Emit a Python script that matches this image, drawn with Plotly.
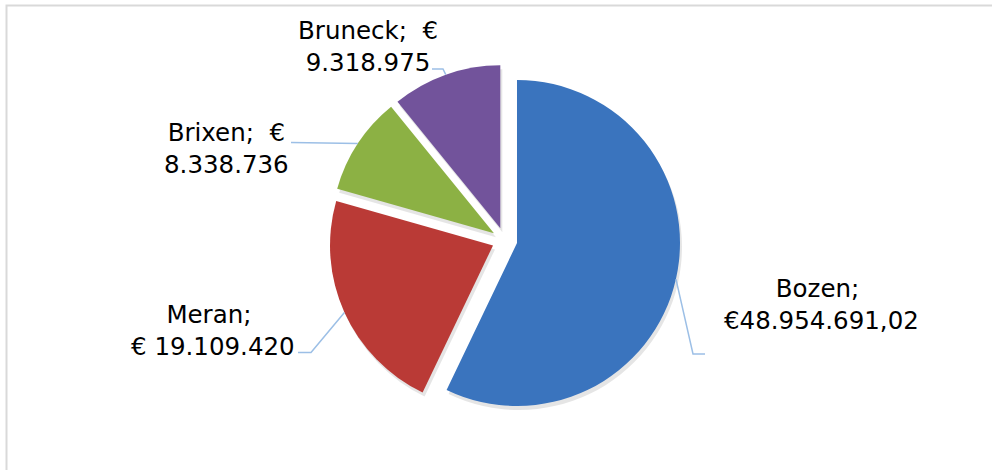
import math
import plotly.graph_objects as go

# ---- data ----
cities = ["Bozen", "Meran", "Brixen", "Bruneck"]
values = [48954691.02, 19109420, 8338736, 9318975]
label_line1 = ["Bozen;\u00a0", "Meran;\u00a0", "Brixen;\u00a0 €", "Bruneck;\u00a0 €"]
label_line2 = ["€48.954.691,02", "€ 19.109.420", "8.338.736", "9.318.975"]
colors = ["#3A74BE", "#BA3A36", "#8CB144", "#72539B"]

# ---- layout geometry (pixels) ----
W, H = 992, 470
cx, cy, r = 504.6, 240.2, 163.0
pull = 0.078
box_h = r * (2 + 2 * pull)
box_w = 500.0

def dom(cx_, cy_):
    return dict(x=[(cx_ - box_w / 2) / W, (cx_ + box_w / 2) / W],
                y=[(H - cy_ - box_h / 2) / H, (H - cy_ + box_h / 2) / H])

# label placement: label block center, and leader-line waypoints
label_pos = {
    "Bozen":   dict(x=821, y=304, path=[(693, 354), (705, 354)]),
    "Meran":   dict(x=213, y=330, path=[(311, 352.5), (298, 352.5)]),
    "Brixen":  dict(x=226, y=148, path=[(291, 142.5)]),
    "Bruneck": dict(x=368, y=46.5, path=[(443, 69), (432, 69)]),
}

fig = go.Figure()

# soft shadow
fig.add_trace(go.Pie(
    labels=cities, values=values, sort=False, direction="clockwise", rotation=0,
    pull=[pull] * len(values), domain=dom(cx + 2, cy + 4),
    marker=dict(colors=["rgba(0,0,0,0.10)"] * len(values), line=dict(width=0)),
    textinfo="none", hoverinfo="skip", showlegend=False,
))
fig.add_trace(go.Pie(
    labels=cities, values=values, sort=False, direction="clockwise", rotation=0,
    pull=[pull] * len(values), domain=dom(cx, cy),
    marker=dict(colors=colors, line=dict(width=0)),
    textinfo="none", showlegend=False,
))

total = sum(values)
shapes = [dict(type="rect", xref="paper", yref="paper",
               x0=6.5 / W, x1=1.2, y0=-0.2, y1=1 - 5.5 / H,
               line=dict(color="#D9D9D9", width=2), fillcolor="rgba(0,0,0,0)")]
annotations = []
font = dict(family="DejaVu Sans, Verdana, sans-serif", size=24.5, color="#000000")

start = 0.0
for i, city in enumerate(cities):
    frac = values[i] / total
    mid = math.radians((start + frac / 2) * 360)
    start += frac
    ax_ = cx + pull * r * math.sin(mid) + r * math.sin(mid)
    ay_ = cy - pull * r * math.cos(mid) - r * math.cos(mid)
    lp = label_pos[city]
    pts = [(ax_, ay_)] + lp["path"]
    d = "M " + " L ".join(f"{px / W:.5f},{1 - py / H:.5f}" for px, py in pts)
    shapes.append(dict(type="path", xref="paper", yref="paper", path=d,
                       line=dict(color="#9CBFE6", width=1.5)))
    annotations.append(dict(x=lp["x"] / W, y=1 - lp["y"] / H, xref="paper", yref="paper",
                            text=label_line1[i] + "<br>" + label_line2[i],
                            showarrow=False, font=font, align="center",
                            xanchor="center", yanchor="middle"))

fig.update_layout(
    width=W, height=H, margin=dict(l=0, r=0, t=0, b=0),
    paper_bgcolor="white", plot_bgcolor="white",
    shapes=shapes, annotations=annotations, showlegend=False,
)
fig.write_html("out.html", config={"displayModeBar": False},
               post_script="document.body.style.margin='0';document.body.style.overflow='hidden';")
